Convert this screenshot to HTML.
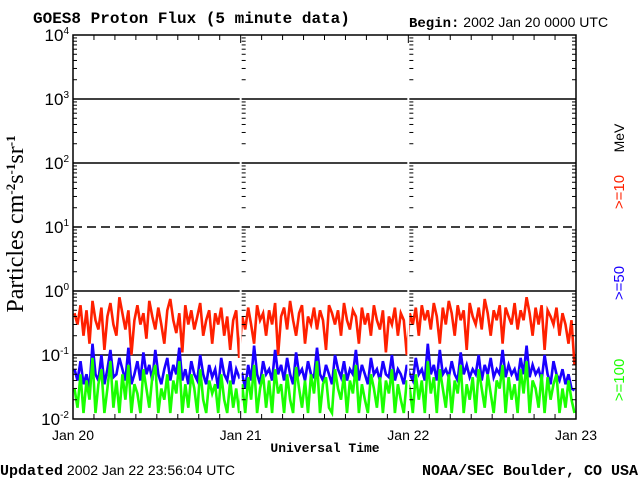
<!DOCTYPE html>
<html><head><meta charset="utf-8"><style>
html,body{margin:0;padding:0;background:#fff;}
#wrap{position:relative;width:640px;height:480px;overflow:hidden;background:#fff;}
svg text{font-family:"Liberation Sans",sans-serif;}
svg text.mono{font-family:"Liberation Mono",monospace;font-weight:bold;}
svg text.serif{font-family:"Liberation Serif",serif;}
</style></head><body>
<div id="wrap">
<svg id="chart" width="640" height="480" viewBox="0 0 640 480">
<text x="33" y="23" class="mono" font-size="16">GOES8 Proton Flux (5 minute data)</text>
<text x="409" y="27" font-size="14"><tspan style="font-family:'Liberation Mono',monospace;font-weight:bold">Begin:</tspan> 2002 Jan 20 0000 UTC</text>
<text x="325" y="452" text-anchor="middle" class="mono" font-size="13">Universal Time</text>
<text x="0" y="475" font-size="14"><tspan style="font-family:'Liberation Mono',monospace;font-weight:bold;font-size:15px">Updated</tspan> 2002 Jan 22 23:56:04 UTC</text>
<text x="638" y="475" text-anchor="end" class="mono" font-size="15">NOAA/SEC Boulder, CO USA</text>
<text transform="translate(23,224) rotate(-90)" text-anchor="middle" font-size="24" class="serif">Particles cm<tspan dy="-8" font-size="13" font-weight="bold">-2</tspan><tspan dy="8">s</tspan><tspan dy="-8" font-size="13" font-weight="bold">-1</tspan><tspan dy="8">sr</tspan><tspan dy="-8" font-size="13" font-weight="bold">-1</tspan></text>
<text transform="translate(624,138) rotate(-90)" text-anchor="middle" font-size="14" fill="#000">MeV</text>
<text transform="translate(624,192) rotate(-90)" text-anchor="middle" font-size="15" fill="#ff2000">&gt;=10</text>
<text transform="translate(624,283) rotate(-90)" text-anchor="middle" font-size="15" fill="#1a00ff">&gt;=50</text>
<text transform="translate(624,380) rotate(-90)" text-anchor="middle" font-size="15" fill="#1aff00">&gt;=100</text>
<g id="grid"></g><g id="series"></g><g id="axes"></g>
</svg></div>
<script>
const dayLabels=["Jan 20","Jan 21","Jan 22","Jan 23"];
const decadeExps=[-2,-1,0,1,2,3,4];
const dashedExps=[1];
const red=[0.45,0.3,0.6,0.2,0.5,0.15,0.7,0.35,0.25,0.55,0.12,0.4,0.65,0.3,0.2,0.8,0.45,0.25,0.5,0.1,0.35,0.6,0.3,0.45,0.18,0.7,0.4,0.25,0.55,0.3,0.15,0.5,0.75,0.35,0.22,0.45,0.11,0.6,0.3,0.5,0.25,0.4,0.65,0.2,0.35,0.5,0.15,0.45,0.3,0.55,0.2,0.4,0.12,0.35,0.5,0.09,
0.4,0.25,0.55,0.3,0.15,0.6,0.35,0.45,0.2,0.5,0.3,0.65,0.1,0.4,0.55,0.25,0.7,0.35,0.2,0.45,0.6,0.15,0.4,0.3,0.55,0.25,0.5,0.35,0.12,0.6,0.45,0.3,0.5,0.2,0.65,0.35,0.25,0.5,0.4,0.15,0.55,0.3,0.45,0.2,0.6,0.35,0.25,0.5,0.11,0.4,0.3,0.55,0.2,0.45,0.35,0.1,
0.45,0.3,0.55,0.2,0.6,0.35,0.5,0.25,0.65,0.4,0.15,0.55,0.3,0.7,0.45,0.2,0.6,0.35,0.5,0.12,0.65,0.4,0.3,0.55,0.25,0.75,0.45,0.2,0.5,0.35,0.6,0.15,0.55,0.4,0.3,0.65,0.25,0.5,0.35,0.8,0.45,0.2,0.55,0.3,0.6,0.12,0.5,0.4,0.3,0.55,0.2,0.45,0.3,0.15,0.35,0.07];
const blue=[0.06,0.04,0.08,0.035,0.05,0.03,0.15,0.05,0.04,0.1,0.035,0.06,0.12,0.045,0.05,0.09,0.06,0.04,0.13,0.035,0.05,0.08,0.04,0.11,0.05,0.07,0.04,0.12,0.05,0.035,0.06,0.09,0.04,0.07,0.05,0.13,0.04,0.06,0.035,0.08,0.05,0.04,0.1,0.05,0.035,0.07,0.045,0.06,0.03,0.09,0.05,0.04,0.08,0.035,0.06,0.045,
0.05,0.03,0.07,0.04,0.14,0.05,0.035,0.08,0.05,0.06,0.04,0.12,0.05,0.07,0.04,0.09,0.05,0.035,0.11,0.05,0.06,0.04,0.08,0.05,0.045,0.13,0.05,0.04,0.07,0.05,0.035,0.1,0.06,0.045,0.08,0.04,0.06,0.05,0.12,0.04,0.07,0.05,0.035,0.09,0.05,0.06,0.04,0.08,0.05,0.045,0.1,0.04,0.06,0.05,0.035,0.07,
0.05,0.04,0.09,0.05,0.06,0.04,0.15,0.05,0.07,0.04,0.12,0.05,0.06,0.045,0.08,0.05,0.04,0.11,0.05,0.07,0.045,0.06,0.05,0.1,0.04,0.07,0.05,0.09,0.045,0.06,0.05,0.12,0.045,0.07,0.05,0.06,0.04,0.09,0.05,0.14,0.045,0.07,0.05,0.06,0.04,0.1,0.05,0.035,0.08,0.05,0.04,0.06,0.035,0.05,0.03,0.028];
const green=[0.03,0.015,0.05,0.012,0.04,0.02,0.09,0.012,0.035,0.06,0.012,0.03,0.08,0.015,0.04,0.012,0.05,0.02,0.07,0.012,0.035,0.025,0.012,0.06,0.03,0.015,0.045,0.07,0.012,0.03,0.02,0.05,0.012,0.04,0.025,0.08,0.012,0.035,0.015,0.05,0.03,0.012,0.06,0.02,0.012,0.04,0.025,0.035,0.012,0.05,0.02,0.012,0.04,0.015,0.03,0.012,
0.035,0.012,0.045,0.02,0.07,0.012,0.03,0.05,0.015,0.04,0.012,0.06,0.025,0.035,0.012,0.05,0.02,0.012,0.065,0.03,0.015,0.04,0.012,0.05,0.025,0.08,0.012,0.035,0.045,0.015,0.012,0.06,0.03,0.02,0.05,0.012,0.04,0.025,0.07,0.012,0.035,0.02,0.012,0.05,0.03,0.015,0.045,0.012,0.04,0.025,0.06,0.012,0.035,0.02,0.012,0.04,
0.03,0.012,0.05,0.02,0.04,0.012,0.08,0.025,0.045,0.012,0.06,0.03,0.015,0.05,0.012,0.04,0.025,0.07,0.012,0.035,0.02,0.045,0.012,0.06,0.03,0.015,0.05,0.025,0.012,0.04,0.03,0.07,0.012,0.045,0.02,0.035,0.012,0.06,0.025,0.08,0.012,0.04,0.03,0.015,0.05,0.012,0.045,0.02,0.035,0.05,0.012,0.03,0.015,0.04,0.02,0.012];
const NS="http://www.w3.org/2000/svg";
const X0=73,X1=576,Y_TOP=35,Y_BOT=419,EMIN=-2,EMAX=4;
function xDay(d){return X0+(X1-X0)*d/3;}
function yLog(v){return Y_BOT-(Math.log10(v)-EMIN)/(EMAX-EMIN)*(Y_BOT-Y_TOP);}
function mk(tag,attrs,parent){const e=document.createElementNS(NS,tag);for(const k in attrs)e.setAttribute(k,attrs[k]);parent.appendChild(e);return e;}
const grid=document.getElementById('grid'),axes=document.getElementById('axes'),ser=document.getElementById('series');
decadeExps.forEach(e=>{
  if(e===EMIN||e===EMAX)return;
  const y=yLog(Math.pow(10,e));
  const l=mk('line',{x1:X0,x2:X1,y1:y,y2:y,stroke:'#000','stroke-width':1.5},grid);
  if(dashedExps.includes(e))l.setAttribute('stroke-dasharray','9,5');
  
  
});
function drawSeries(vals,color,name){
  const n=vals.length;let d='';
  vals.forEach((v,i)=>{const x=xDay(3*(i+0.5)/n);const y=Math.min(yLog(Math.max(v,0.012)),413);d+=(i?'L':'M')+x.toFixed(1)+','+y.toFixed(1);});
  const p=mk('path',{d:d,fill:'none',stroke:color,'stroke-width':2.6,'stroke-linejoin':'miter'},ser);
  
  
}
drawSeries(red,'#ff2000','series-ge10-mev');
drawSeries(blue,'#1a00ff','series-ge50-mev');
drawSeries(green,'#1aff00','series-ge100-mev');
[1,2].forEach(d=>{const x=xDay(d);const g=mk('line',{x1:x,x2:x,y1:Y_TOP,y2:Y_BOT,stroke:'#fff','stroke-width':2},axes);
  
  });
const fr=mk('rect',{x:X0,y:Y_TOP,width:X1-X0,height:Y_BOT-Y_TOP,fill:'none',stroke:'#000','stroke-width':1.5},axes);


const tickXs=[[X0,1],[xDay(1)+1,1],[xDay(2)+1,1],[X1,-1]];
for(let e=EMIN;e<EMAX;e++){for(let m=2;m<=9;m++){const y=yLog(m*Math.pow(10,e));
  tickXs.forEach(([x,dir])=>{const t=mk('line',{x1:x,x2:x+dir*4,y1:y,y2:y,stroke:'#000','stroke-width':1},axes);
    
    });}}
decadeExps.forEach(e=>{const y=yLog(Math.pow(10,e));
  const t=mk('text',{x:X0-4,y:y+6,'text-anchor':'end','font-size':17},axes);t.textContent='10';
  const s=mk('tspan',{dy:-7,'font-size':10},t);s.textContent=String(e);
  
  
});
for(let h=0;h<=72;h+=3){const x=X0+(X1-X0)*h/72;const len=(h%24===0)?8:5;
  const a=mk('line',{x1:x,x2:x,y1:Y_TOP,y2:Y_TOP+len,stroke:'#000','stroke-width':1},axes);
  
  
  const b=mk('line',{x1:x,x2:x,y1:Y_BOT,y2:Y_BOT-len,stroke:'#000','stroke-width':1},axes);
  
  }
dayLabels.forEach((lab,i)=>{const t=mk('text',{x:xDay(i),y:440,'text-anchor':'middle','font-size':14},axes);t.textContent=lab;
  
  });
</script>
</body></html>
